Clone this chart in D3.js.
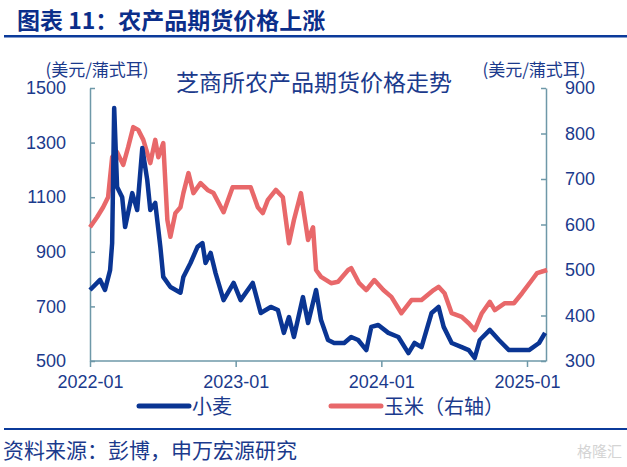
<!DOCTYPE html>
<html>
<head>
<meta charset="utf-8">
<script src="https://cdn.jsdelivr.net/npm/d3@7"></script>
<style>
  body { margin: 0; background: #fff; font-family: "Noto Sans CJK SC", "Liberation Sans", sans-serif; }
</style>
</head>
<body>
<script>
// 小麦 (left axis), decimal year + price
const wheatYears = [2022.00, 2022.069, 2022.103, 2022.138, 2022.152, 2022.166, 2022.186, 2022.221, 2022.241, 2022.29,
  2022.324, 2022.359, 2022.393, 2022.414, 2022.448, 2022.483, 2022.503, 2022.552, 2022.621, 2022.641,
  2022.69, 2022.738, 2022.772, 2022.793, 2022.828, 2022.862, 2022.917, 2022.986, 2023.034, 2023.117,
  2023.172, 2023.241, 2023.29, 2023.331, 2023.366, 2023.4, 2023.462, 2023.497, 2023.552, 2023.586,
  2023.634, 2023.676, 2023.745, 2023.793, 2023.841, 2023.897, 2023.931, 2023.979, 2024.048, 2024.117,
  2024.186, 2024.228, 2024.276, 2024.345, 2024.393, 2024.428, 2024.483, 2024.552, 2024.6, 2024.641,
  2024.676, 2024.745, 2024.807, 2024.876, 2024.945, 2025.014, 2025.083, 2025.124];
const wheatValues = [760, 797, 760, 833, 932, 1427, 1137, 1100, 991, 1115,
  1053, 1280, 1163, 1053, 1079, 918, 808, 771, 750, 808,
  859, 918, 932, 859, 896, 822, 723, 786, 723, 786,
  676, 698, 687, 603, 661, 588, 734, 639, 760, 650,
  577, 566, 566, 588, 577, 540, 625, 632, 603, 588,
  529, 566, 551, 676, 698, 625, 566, 551, 540, 511,
  577, 614, 577, 540, 540, 540, 566, 603];

// 玉米 (right axis)
const cornYears = [2022.0, 2022.048, 2022.09, 2022.124, 2022.152, 2022.186, 2022.228, 2022.262, 2022.297, 2022.331,
  2022.366, 2022.414, 2022.448, 2022.469, 2022.503, 2022.531, 2022.552, 2022.586, 2022.621, 2022.641,
  2022.676, 2022.71, 2022.759, 2022.807, 2022.848, 2022.917, 2022.979, 2023.034, 2023.103, 2023.152,
  2023.186, 2023.221, 2023.276, 2023.324, 2023.366, 2023.4, 2023.448, 2023.497, 2023.531, 2023.552,
  2023.586, 2023.655, 2023.703, 2023.772, 2023.793, 2023.848, 2023.897, 2023.952, 2024.014, 2024.069,
  2024.138, 2024.207, 2024.276, 2024.359, 2024.393, 2024.434, 2024.483, 2024.552, 2024.6, 2024.641,
  2024.69, 2024.745, 2024.779, 2024.848, 2024.91, 2024.966, 2025.034, 2025.069, 2025.138];
const cornValues = [594, 616, 638, 660, 748, 759, 731, 770, 814, 808,
  786, 735, 786, 748, 779, 610, 573, 625, 638, 669,
  713, 669, 691, 676, 669, 627, 682, 682, 682, 638,
  625, 654, 676, 660, 559, 610, 669, 566, 594, 500,
  485, 471, 474, 500, 504, 471, 456, 478, 456, 441,
  405, 434, 434, 456, 463, 449, 405, 397, 383, 368,
  405, 430, 412, 427, 427, 449, 478, 493, 500];

const xTicks = [2022, 2023, 2024, 2025];
const xTickLabels = ['2022-01', '2023-01', '2024-01', '2025-01'];
const leftTicks = [500, 700, 900, 1100, 1300, 1500];
const rightTicks = [300, 400, 500, 600, 700, 800, 900];

const W = 627, H = 467;
const plotL = 90, plotR = 546, plotT = 88, plotB = 361;
const txt = '#1B3A8C', axisCol = '#6E98A8';
const blue = '#0A3593', red = '#E8686A';

const svg = d3.select('body').append('svg').attr('width', W).attr('height', H);

const x = d3.scaleLinear().domain([2022, 2025]).range([plotL, 527]);
const yL = d3.scaleLinear().domain([500, 1500]).range([plotB, plotT]);
const yR = d3.scaleLinear().domain([300, 900]).range([plotB, plotT]);

// header
svg.append('text').attr('x', 17).attr('y', 29).text('图表 11：农产品期货价格上涨')
  .attr('font-size', 23).attr('font-weight', 'bold').attr('fill', '#0B2E8A');
svg.append('rect').attr('x', 4).attr('y', 35).attr('width', 623).attr('height', 2.5).attr('fill', '#0B3A9A');

// axes
const gx = svg.append('g').attr('transform', `translate(0,${plotB})`)
  .call(d3.axisBottom(x).tickValues(xTicks).tickFormat((d, i) => xTickLabels[i]).tickSize(6).tickSizeOuter(0));
gx.select('.domain').attr('d', `M${plotL},0H${plotR}`);
const gl = svg.append('g').attr('transform', `translate(${plotL},0)`)
  .call(d3.axisLeft(yL).tickValues(leftTicks).tickFormat(d3.format('d')).tickSize(-5).tickPadding(24).tickSizeOuter(0));
const gr = svg.append('g').attr('transform', `translate(${plotR},0)`)
  .call(d3.axisRight(yR).tickValues(rightTicks).tickFormat(d3.format('d')).tickSize(-5).tickPadding(19).tickSizeOuter(0));
[gx, gl, gr].forEach(g => {
  g.selectAll('path, line').attr('stroke', axisCol).attr('stroke-width', 1.5);
  g.selectAll('text').attr('fill', txt).attr('font-size', 18).attr('font-family', '"Liberation Sans", Arial, sans-serif');
});
gx.selectAll('text').attr('dy', '1.0em');

// units and chart title
svg.append('text').attr('x', 97).attr('y', 76).attr('text-anchor', 'middle').text('(美元/蒲式耳)')
  .attr('font-size', 17).attr('fill', txt);
svg.append('text').attr('x', 534).attr('y', 76).attr('text-anchor', 'middle').text('(美元/蒲式耳)')
  .attr('font-size', 17).attr('fill', txt);
svg.append('text').attr('x', 314).attr('y', 91).attr('text-anchor', 'middle').text('芝商所农产品期货价格走势')
  .attr('font-size', 23).attr('fill', txt);

// lines
const cornPts = cornYears.map((t, i) => [t, cornValues[i]]);
const wheatPts = wheatYears.map((t, i) => [t, wheatValues[i]]);
svg.append('path').datum(cornPts).attr('fill', 'none').attr('stroke', red).attr('stroke-width', 4.5)
  .attr('stroke-linejoin', 'round')
  .attr('d', d3.line().x(d => x(d[0])).y(d => yR(d[1])));
svg.append('path').datum(wheatPts).attr('fill', 'none').attr('stroke', blue).attr('stroke-width', 4.5)
  .attr('stroke-linejoin', 'round')
  .attr('d', d3.line().x(d => x(d[0])).y(d => yL(d[1])));

// legend
const legend = [{ name: '小麦', c: blue, x: 139 }, { name: '玉米（右轴）', c: red, x: 331 }];
legend.forEach(l => {
  svg.append('line').attr('x1', l.x).attr('x2', l.x + 50).attr('y1', 406).attr('y2', 406)
    .attr('stroke', l.c).attr('stroke-width', 5).attr('stroke-linecap', 'round');
  svg.append('text').attr('x', l.x + 53).attr('y', 414).text(l.name).attr('font-size', 20).attr('fill', txt);
});

// footer
svg.append('rect').attr('x', 4).attr('y', 428).attr('width', 623).attr('height', 2).attr('fill', '#0B3A9A');
svg.append('text').attr('x', 3).attr('y', 458).text('资料来源：彭博，申万宏源研究')
  .attr('font-size', 21).attr('fill', txt);
svg.append('text').attr('x', 622).attr('y', 457).attr('text-anchor', 'end').text('格隆汇')
  .attr('font-size', 15).attr('fill', '#d4d4d4');
</script>
</body>
</html>
